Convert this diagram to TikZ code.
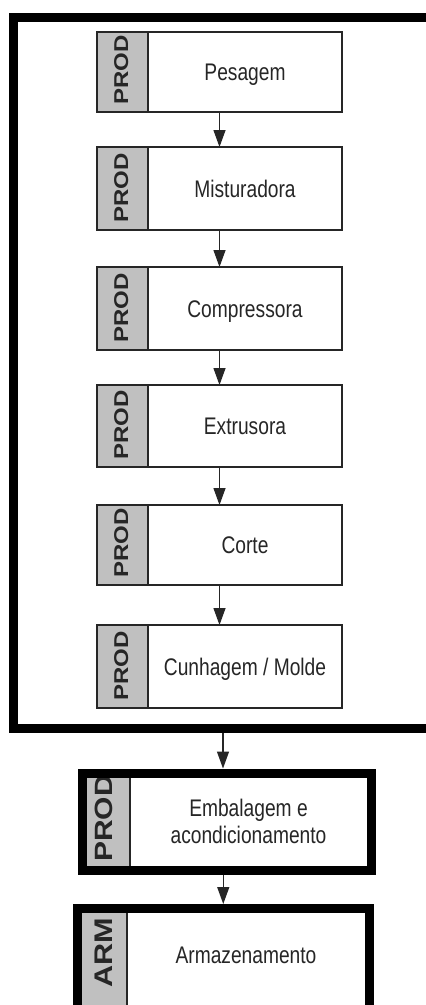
\documentclass[tikz,border=0pt]{standalone}
\usepackage{fontspec}
\setmainfont{Liberation Sans}
\newfontfamily\narrowfont[FakeStretch=0.8]{Liberation Sans}
\newfontfamily\sidefont[FakeStretch=1.2]{Liberation Sans}
\usetikzlibrary{arrows.meta}
\definecolor{graycol}{HTML}{C0C0C0}
\definecolor{inkcol}{HTML}{262626}
\newcommand\procstep[8]{% name, left, grayright, right, top, bottom, side, label
  \fill[graycol] (#2,#5) rectangle (#3,#6);
  \node[sidetext] (#1s) at (128,{#6-7}) {#7};
  \draw[divider] (#3,#5) -- (#3,#6);
  \node[thinbox, minimum width={#4-#2}, minimum height={#6-#5}] (#1) at ({(#2+#4)/2},{(#5+#6)/2}) {};
  \node[labeltext, anchor=base] (#1t) at ({(#3+#4)/2},{(#5+#6)/2+8.6}) {#8};
}
\begin{document}
\begin{tikzpicture}[x=1pt,y=-1pt,
  thinbox/.style={draw=inkcol, line width=1.3pt, inner sep=0pt, outer sep=0pt, rectangle},
  thickbox/.style={draw=black, line width=9pt, inner sep=0pt, rectangle},
  labeltext/.style={font=\narrowfont\fontsize{24}{27}\selectfont, text=inkcol, align=center, inner sep=0pt},
  sidetext/.style={font=\sidefont\bfseries\fontsize{20}{20}\selectfont, text=inkcol, rotate=90, anchor=base west, inner sep=0pt},
  divider/.style={draw=inkcol, line width=1.3pt},
  arr/.style={draw=inkcol, line width=1.3pt, -{Triangle[width=12pt,length=17pt]}}
]
\useasboundingbox (0,0) rectangle (426,1005);
\clip (0,0) rectangle (426,1005);
\fill[white] (0,0) rectangle (426,1005);

% outer frame
\node[thickbox, minimum width=426.5, minimum height=710.5] (frame) at (226.75,372.75) {};

% steps inside the frame
\procstep{b1}{97}{148}{342}{32}{112}{PROD}{Pesagem}
\procstep{b2}{97}{148}{342}{147}{230}{PROD}{Misturadora}
\procstep{b3}{97}{148}{342}{267}{350}{PROD}{Compressora}
\procstep{b4}{97}{148}{342}{385}{467}{PROD}{Extrusora}
\procstep{b5}{97}{148}{342}{505}{585}{PROD}{Corte}
\procstep{b6}{97}{148}{342}{625}{708}{PROD}{Cunhagem / Molde}

% packaging box
\fill[graycol] (82,773) rectangle (130,870);
\node[sidetext, font=\sidefont\bfseries\fontsize{25}{25}\selectfont] (b7s) at (112,862) {PROD};
\draw[divider] (130,773) -- (130,870);
\node[thickbox, minimum width=289, minimum height=97] (b7) at (226.5,821.5) {};
\node[labeltext] (b7t) at (248.5,821.75) {Embalagem e\\acondicionamento};

% storage box
\fill[graycol] (77.5,908.5) rectangle (127,1015);
\node[sidetext, font=\sidefont\bfseries\fontsize{25.5}{25.5}\selectfont] (b8s) at (112,988) {ARM};
\draw[divider] (127,908.5) -- (127,1015);
\node[thickbox, minimum width=291.5, minimum height=106.5] (b8) at (223.25,961.75) {};
\node[labeltext, anchor=base] (b8t) at (246,963) {Armazenamento};

% connectors
\draw[arr] (b1.south) -- (b2.north);
\draw[arr] (b2.south) -- (b3.north);
\draw[arr] (b3.south) -- (b4.north);
\draw[arr] (b4.south) -- (b5.north);
\draw[arr] (b5.south) -- (b6.north);
\coordinate (a7) at ([xshift=-3.5pt]b7.north);
\draw[arr] (frame.south -| a7) -- (a7);
\draw[arr] (b7.south -| b8.north) -- (b8.north);
\end{tikzpicture}
\end{document}
